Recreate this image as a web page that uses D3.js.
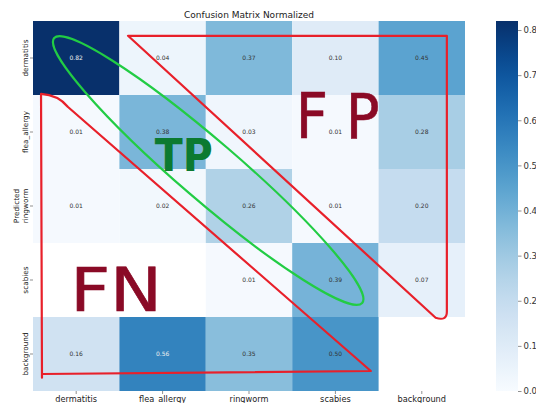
<!DOCTYPE html>
<html lang="en">
<head>
  <meta charset="UTF-8" />
  <title>Confusion Matrix Normalized</title>
  <style>
    body { margin:0; background:#fff; }
    svg { display:block; font-family:"DejaVu Sans", sans-serif; }
  </style>
</head>
<body>
  <svg id="chart" width="536" height="403"></svg>

  <script src="https://d3js.org/d3.v7.min.js"></script>
  <script>
  // classes: rows = predicted, columns = true label
  const labels = ["dermatitis","flea_allergy","ringworm","scabies","background"];
  // null = empty (masked) cell
  const rowDermatitis  = [0.82, 0.04, 0.37, 0.10, 0.45];
  const rowFleaAllergy = [0.01, 0.38, 0.03, 0.01, 0.28];
  const rowRingworm    = [0.01, 0.02, 0.26, 0.01, 0.20];
  const rowScabies     = [null, null, 0.01, 0.39, 0.07];
  const rowBackground  = [0.16, 0.56, 0.35, 0.50, null];
  const colorTicks = [0, 0.1, 0.2, 0.3, 0.4, 0.5, 0.6, 0.7, 0.8];
  const vmax = 0.82;

  const matrix = [rowDermatitis, rowFleaAllergy, rowRingworm, rowScabies, rowBackground];

  const svg = d3.select("#chart");
  const L = 33, R = 465, T = 21, B = 391;

  const x = d3.scaleBand().domain(labels).range([L, R]);
  const y = d3.scaleBand().domain(labels).range([T, B]);
  const color = d3.scaleSequential(d3.interpolateBlues).domain([0, vmax]);

  // cell-unit scales for the hand-drawn marks on top
  const cx = d3.scaleLinear().domain([0, 5]).range([L, R]);
  const cy = d3.scaleLinear().domain([0, 5]).range([T, B]);
  const P = (c, r) => `${cx(c)},${cy(r)}`;

  // title
  svg.append("text")
     .attr("x", (L+R)/2).attr("y", 18).attr("text-anchor","middle")
     .style("font-size","9px").style("fill","#222")
     .text("Confusion Matrix Normalized");

  // cells
  const cells = [];
  matrix.forEach((row, i) => row.forEach((v, j) => {
    if (v !== null) cells.push({pred: labels[i], act: labels[j], v});
  }));

  svg.append("g").selectAll("rect")
     .data(cells).join("rect")
     .attr("x", d => x(d.act)).attr("y", d => y(d.pred))
     .attr("width", x.bandwidth()).attr("height", y.bandwidth())
     .attr("fill", d => color(d.v));

  svg.append("g").selectAll("text")
     .data(cells).join("text")
     .attr("x", d => x(d.act) + x.bandwidth()/2)
     .attr("y", d => y(d.pred) + y.bandwidth()/2 + 2)
     .attr("text-anchor","middle")
     .style("font-size","6px")
     .style("fill", d => {
       const c = d3.rgb(color(d.v));
       const lum = (0.2126*c.r + 0.7152*c.g + 0.0722*c.b)/255;
       return lum < 0.5 ? "#f0f0f0" : "#333";
     })
     .text(d => d.v.toFixed(2));

  // axes
  const gx = svg.append("g").attr("transform", `translate(0,${B})`)
     .call(d3.axisBottom(x).tickSize(3).tickPadding(2));
  gx.select(".domain").remove();
  gx.selectAll("line").attr("stroke","#444").attr("stroke-width",0.6);
  gx.selectAll("text").style("font-size","8.2px").style("fill","#222")
    .style("font-family","DejaVu Sans, sans-serif");

  const gy = svg.append("g").attr("transform", `translate(${L},0)`)
     .call(d3.axisLeft(y).tickSize(3).tickPadding(0));
  gy.select(".domain").remove();
  gy.selectAll("line").attr("stroke","#444").attr("stroke-width",0.6);
  gy.selectAll("text")
    .attr("x", null).attr("dy", null)
    .attr("transform", "translate(-5,0) rotate(-90)")
    .attr("text-anchor","middle")
    .style("font-size","7.3px").style("fill","#222")
    .style("font-family","DejaVu Sans, sans-serif");

  // y axis title, partly cropped at the left edge
  svg.append("clipPath").attr("id","leftClip")
     .append("rect").attr("x",12).attr("y",0).attr("width",40).attr("height",403);
  svg.append("g").attr("clip-path","url(#leftClip)")
     .append("text")
     .attr("transform", `translate(18.5,${(T+B)/2}) rotate(-90)`)
     .attr("text-anchor","middle")
     .style("font-size","7.3px").style("fill","#222")
     .text("Predicted");

  // colorbar
  const cbX = 496, cbW = 22;
  const cbScale = d3.scaleLinear().domain([0, vmax]).range([B, T]);
  const grad = svg.append("defs").append("linearGradient")
     .attr("id","cbGrad").attr("x1",0).attr("y1",1).attr("x2",0).attr("y2",0);
  d3.range(0, 1.0001, 0.05).forEach(t => {
    grad.append("stop").attr("offset", t).attr("stop-color", color(t*vmax));
  });
  svg.append("rect").attr("x",cbX).attr("y",T).attr("width",cbW).attr("height",B-T)
     .attr("fill","url(#cbGrad)");
  const gc = svg.append("g").attr("transform", `translate(${cbX+cbW},0)`)
     .call(d3.axisRight(cbScale).tickValues(colorTicks).tickFormat(d3.format(".1f"))
           .tickSize(3.5).tickPadding(2));
  gc.select(".domain").remove();
  gc.selectAll("line").attr("stroke","#444").attr("stroke-width",0.6);
  gc.selectAll("text").style("font-size","8.5px").style("fill","#333")
    .style("font-family","DejaVu Sans, sans-serif");

  // hand-drawn overlay: FP triangle, FN triangle, TP ellipse
  const ink = svg.append("g").attr("fill","none").attr("stroke-linejoin","round")
                 .attr("stroke-linecap","round");
  ink.append("path")
     .attr("d", `M${P(1.10,0.20)} L${P(4.79,0.20)} L${P(4.79,3.93)} Q${P(4.79,4.06)} ${P(4.66,4.01)} Z`)
     .attr("stroke","#e8202a").attr("stroke-width",2.2);
  ink.append("path")
     .attr("d", `M${P(0.104,4.82)} L${P(0.093,0.986)} Q${P(0.29,1.0)} ${P(0.405,1.162)} L${P(3.91,4.73)} L${P(0.104,4.77)}`)
     .attr("stroke","#e8202a").attr("stroke-width",2.2);

  const e1 = [cx(0.245), cy(0.23)], e2 = [cx(3.81), cy(3.81)];
  const ang = Math.atan2(e2[1]-e1[1], e2[0]-e1[0]) * 180 / Math.PI;
  const half = Math.hypot(e2[0]-e1[0], e2[1]-e1[1]) / 2;
  ink.append("ellipse")
     .attr("transform", `translate(${(e1[0]+e2[0])/2},${(e1[1]+e2[1])/2}) rotate(${ang})`)
     .attr("rx", half).attr("ry", 0.4*y.bandwidth())
     .attr("stroke","#22cc44").attr("stroke-width",2.2);

  const marks = [
    {t:"F P", c:3.04, r:1.58, size:62, len:84, col:"#8a0a26", w:"normal", sw:0.6},
    {t:"TP",  c:1.41, r:2.03, size:44, len:58, col:"#0c7a30", w:"bold",   sw:0},
    {t:"FN",  c:0.43, r:3.92, size:60, len:92, col:"#8a0a26", w:"normal", sw:0.6}
  ];
  svg.append("g").selectAll("text")
     .data(marks).join("text")
     .attr("x", d => cx(d.c)).attr("y", d => cy(d.r))
     .attr("textLength", d => d.len).attr("lengthAdjust","spacingAndGlyphs")
     .style("font-family","DejaVu Sans, sans-serif")
     .style("font-size", d => d.size + "px").style("font-weight", d => d.w)
     .style("fill", d => d.col).style("stroke", d => d.col).style("stroke-width", d => d.sw)
     .text(d => d.t);
  </script>
</body>
</html>
